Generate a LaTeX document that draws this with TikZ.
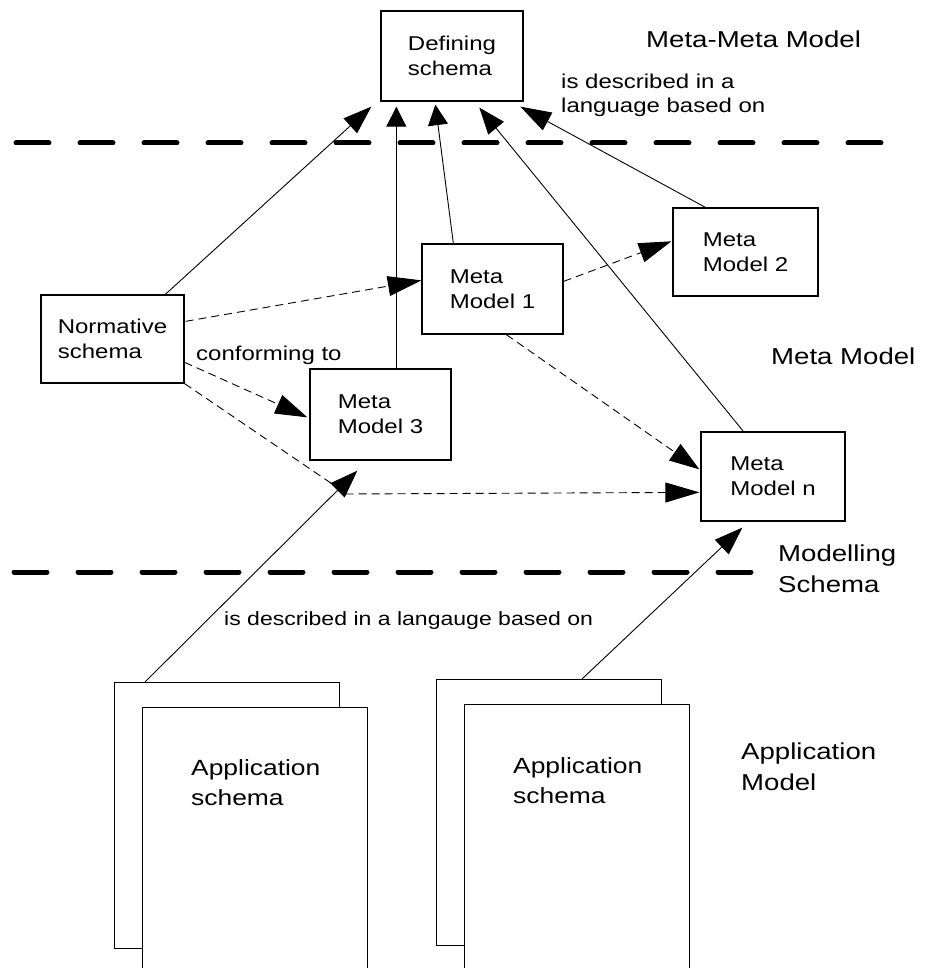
\documentclass[tikz,border=0pt]{standalone}
\usepackage{fontspec}
\setmainfont{Liberation Sans}[FakeStretch=1.2]
\usetikzlibrary{arrows.meta,calc}
\begin{document}
\begin{tikzpicture}[x=1pt,y=-1pt,
  box/.style={draw,line width=1.3pt,fill=white,align=left,inner sep=0pt,
    font=\fontsize{20}{25}\selectfont},
  page/.style={draw,line width=1pt,fill=white,inner sep=0pt,anchor=north west},
  conn/.style={line width=0.9pt},
  dconn/.style={line width=0.9pt,dash pattern=on 8pt off 5pt},
  arr/.style={-{Triangle[length=#1,width=20pt]}},
  sep/.style={line width=5pt,line cap=round,dash pattern=on 33pt off 31pt},
  lvl/.style={anchor=west,inner sep=0pt,align=left,font=\fontsize{23}{31}\selectfont},
  note/.style={anchor=west,inner sep=0pt,align=left,font=\fontsize{20}{24}\selectfont},
  apptxt/.style={anchor=west,inner sep=0pt,align=left,font=\fontsize{22}{30}\selectfont}]
\useasboundingbox (0,0) rectangle (925,968);

% separators
\coordinate (t1) at (16,143); \coordinate (t2) at (882,143);
\coordinate (b1) at (14,572); \coordinate (b2) at (752,572);
\draw[sep] (t1) -- (t2);
\draw[sep] (b1) -- (b2);

% boxes
\node[box,minimum width=142pt,minimum height=90pt] (ds) at (452,56) {Defining\\schema};
\node[box,minimum width=143pt,minimum height=88pt] (ns) at (112.5,339) {Normative\\schema};
\node[box,minimum width=141pt,minimum height=90pt] (mm1) at (492.5,289) {Meta\\Model 1};
\node[box,minimum width=145pt,minimum height=88pt] (mm2) at (745.5,252) {Meta\\Model 2};
\node[box,minimum width=141pt,minimum height=91pt] (mm3) at (380.5,414.5) {Meta\\Model 3};
\node[box,minimum width=144pt,minimum height=89pt] (mmn) at (773,476.5) {Meta\\Model n};

% application schema pages
\begin{scope}
\clip (0,0) rectangle (925,968);
\node[page,minimum width=225pt,minimum height=266pt] (appLb) at (114,682) {};
\node[page,minimum width=225pt,minimum height=290pt] (appLf) at (142,707) {};
\node[page,minimum width=225pt,minimum height=266pt] (appRb) at (436,679) {};
\node[page,minimum width=225pt,minimum height=290pt] (appRf) at (464,704) {};
\end{scope}
\node[apptxt] (appLt) at (191,783) {Application\\schema};
\node[apptxt] (appRt) at (513,781) {Application\\schema};

% labels
\node[lvl] (l1) at (646,39) {Meta-Meta Model};
\node[lvl] (l2) at (771,356) {Meta Model};
\node[lvl] (l3) at (778,568.5) {Modelling\\Schema};
\node[lvl] (l4) at (741,767) {Application\\Model};
\node[note] (n1) at (561,95) {is described in a\\language based on};
\node[note] (n2) at (196,355) {conforming to};
\node[note,font=\fontsize{19.2}{24}\selectfont] (n3) at (224,621) {is described in a langauge based on};

% solid arrows to defining schema
\draw[conn,arr=28.5pt] ($(ns.north west)+(125,0)$) -- ($(ds.south west)+(-9,5)$);
\draw[conn,arr=20pt] ($(mm3.north west)+(87,0)$) -- ($(ds.south west)+(16,5)$);
\draw[conn,arr=20.5pt] ($(mm1.north west)+(32,0)$) -- ($(ds.south west)+(55,3)$);
\draw[conn,arr=26.5pt] ($(mmn.north west)+(43,0)$) -- ($(ds.south west)+(99,6)$);
\draw[conn,arr=31pt] ($(mm2.north west)+(33,0)$) -- ($(ds.south west)+(140,5)$);

% dashed arrows
\draw[dconn,arr=33.5pt] ($(ns.north east)+(1,27)$) -- ($(mm1.north west)+(0,37)$);
\draw[dconn,arr=32.5pt] ($(mm1.north east)+(0,38)$) -- ($(mm2.north west)+(-1,34)$);
\draw[dconn,arr=32pt] ($(ns.north east)+(0,68)$) -- ($(mm3.north west)+(-2,49)$);
\coordinate (bend) at (347,494);
\draw[dconn,arr=34pt] (ns.south east) -- (bend) -- ($(mmn.north west)+(-1,61)$);
\draw[dconn,arr=30pt] ($(mm1.south west)+(85,0)$) -- ($(mmn.north west)+(-1,38)$);

% application arrows
\draw[conn,arr=28pt] ($(appLb.north west)+(31,0)$) -- ($(mm3.south west)+(48,10)$);
\draw[conn,arr=28.3pt] ($(appRb.north west)+(146,0)$) -- ($(mmn.south west)+(42,6)$);
\end{tikzpicture}
\end{document}
